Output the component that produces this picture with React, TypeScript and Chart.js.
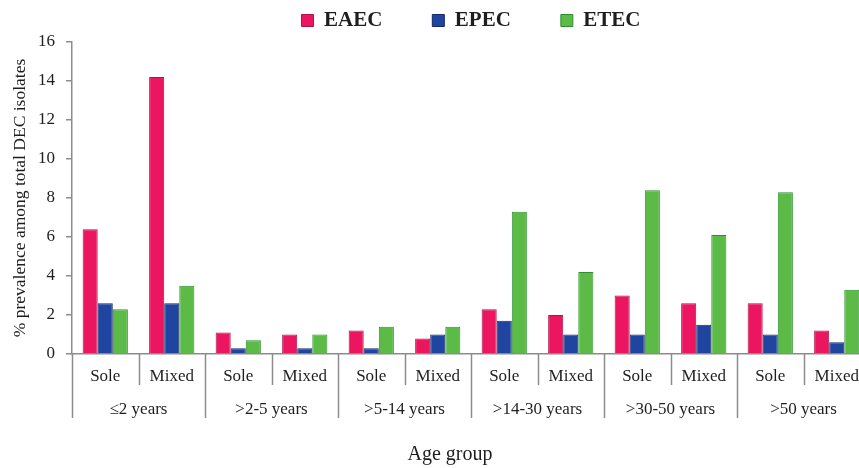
import React, { useEffect, useRef } from "react";
import { Chart, registerables } from "chart.js";

Chart.register(...registerables);

const subgroups = ["Sole", "Mixed", "Sole", "Mixed", "Sole", "Mixed", "Sole", "Mixed", "Sole", "Mixed", "Sole", "Mixed"];
const ageGroups = ["≤2 years", ">2-5 years", ">5-14 years", ">14-30 years", ">30-50 years", ">50 years"];
const eaecValues = [6.4, 14.2, 1.1, 1.0, 1.2, 0.8, 2.3, 2.0, 3.0, 2.6, 2.6, 1.2];
const epecValues = [2.6, 2.6, 0.3, 0.3, 0.3, 1.0, 1.7, 1.0, 1.0, 1.5, 1.0, 0.6];
const etecValues = [2.3, 3.5, 0.7, 1.0, 1.4, 1.4, 7.3, 4.2, 8.4, 6.1, 8.3, 3.3];
const yTicks = [0, 2, 4, 6, 8, 10, 12, 14, 16];
const yTitle = "% prevalence among total DEC isolates";
const xTitle = "Age group";

const SERIF = '"Liberation Serif", "Times New Roman", serif';
const AXIS_GRAY = "#8c8c8c";
const TEXT = "#1e1e1e";

const legendFitPlugin = {
  id: "legendFit",
  afterInit(chart: any) {
    const lg = chart.legend;
    if (!lg || lg.__patched) return;
    const fit = lg.fit;
    lg.fit = function () {
      fit.call(this);
      this.height = 82;
    };
    lg.__patched = true;
  },
};

const groupAxisPlugin = {
  id: "groupAxis",
  afterDraw(chart: any) {
    const xs = chart.scales.x;
    const ctx = chart.ctx;
    const y0 = chart.chartArea.bottom;
    const half = (xs.getPixelForValue(1) - xs.getPixelForValue(0)) / 2;
    ctx.save();
    ctx.strokeStyle = AXIS_GRAY;
    ctx.lineWidth = 1.5;
    for (let i = 0; i < subgroups.length; i++) {
      const bx = Math.round(xs.getPixelForValue(i) - half) + 0.5;
      const isLong = i % 2 === 0;
      ctx.beginPath();
      ctx.moveTo(bx, y0);
      ctx.lineTo(bx, y0 + (isLong ? 64 : 31));
      ctx.stroke();
    }
    ctx.fillStyle = TEXT;
    ctx.textAlign = "center";
    ctx.textBaseline = "middle";
    ctx.font = `17px ${SERIF}`;
    ageGroups.forEach((g, k) => {
      const cx = (xs.getPixelForValue(2 * k) + xs.getPixelForValue(2 * k + 1)) / 2;
      ctx.fillText(g, cx, y0 + 56);
    });
    ctx.font = `20px ${SERIF}`;
    const ca = chart.chartArea;
    ctx.fillText(xTitle, (ca.left + ca.right) / 2 - 21, y0 + 101);
    ctx.restore();
  },
};

export default function App() {
  const ref = useRef<HTMLCanvasElement | null>(null);

  useEffect(() => {
    if (!ref.current) return;
    const chart = new Chart(ref.current, {
      type: "bar",
      data: {
        labels: subgroups,
        datasets: [
          {
            label: "EAEC",
            data: eaecValues,
            backgroundColor: "#EC1560",
            borderColor: "#B0124A",
            borderWidth: 1,
          },
          {
            label: "EPEC",
            data: epecValues,
            backgroundColor: "#1F45A0",
            borderColor: "#13296A",
            borderWidth: 1,
          },
          {
            label: "ETEC",
            data: etecValues,
            backgroundColor: "#5CBB47",
            borderColor: "#2F8F30",
            borderWidth: 1,
          },
        ],
      },
      options: {
        responsive: false,
        animation: false,
        devicePixelRatio: 1,
        layout: { padding: { top: -40, right: 10, left: 0, bottom: 0 } },
        datasets: {
          bar: { barPercentage: 1, categoryPercentage: 0.68 },
        },
        plugins: {
          tooltip: { enabled: false },
          legend: {
            position: "top",
            fullSize: false,
            labels: {
              boxWidth: 12,
              boxHeight: 12,
              padding: 50,
              color: TEXT,
              font: { family: SERIF, size: 21, weight: "bold" },
            },
          },
        },
        scales: {
          x: {
            grid: { display: false, drawTicks: false },
            border: { display: true, color: AXIS_GRAY, width: 1.5 },
            ticks: {
              color: TEXT,
              padding: 12,
              font: { family: SERIF, size: 17 },
              maxRotation: 0,
              autoSkip: false,
            },
            afterFit(scale: any) {
              scale.height = 114;
            },
          },
          y: {
            min: 0,
            max: 16,
            afterBuildTicks(scale: any) {
              scale.ticks = yTicks.map((v) => ({ value: v }));
            },
            grid: {
              display: true,
              drawOnChartArea: false,
              drawTicks: true,
              tickLength: 6,
              color: AXIS_GRAY,
              lineWidth: 1.5,
            },
            border: { display: true, color: AXIS_GRAY, width: 1.5 },
            ticks: {
              color: TEXT,
              padding: 11,
              font: { family: SERIF, size: 17 },
            },
            title: {
              display: true,
              text: yTitle,
              color: TEXT,
              font: { family: SERIF, size: 17.5 },
              padding: { top: 10, bottom: 0 },
            },
            afterFit(scale: any) {
              scale.width = 72;
            },
          },
        },
      },
      plugins: [legendFitPlugin, groupAxisPlugin],
    } as any);
    return () => chart.destroy();
  }, []);

  return (
    <div
      style={{
        position: "fixed",
        left: 0,
        top: 0,
        width: 859,
        height: 468,
        overflow: "hidden",
        background: "#ffffff",
      }}
    >
      <canvas
        ref={ref}
        width={880}
        height={468}
        style={{ display: "block", width: 880, height: 468 }}
      />
    </div>
  );
}
